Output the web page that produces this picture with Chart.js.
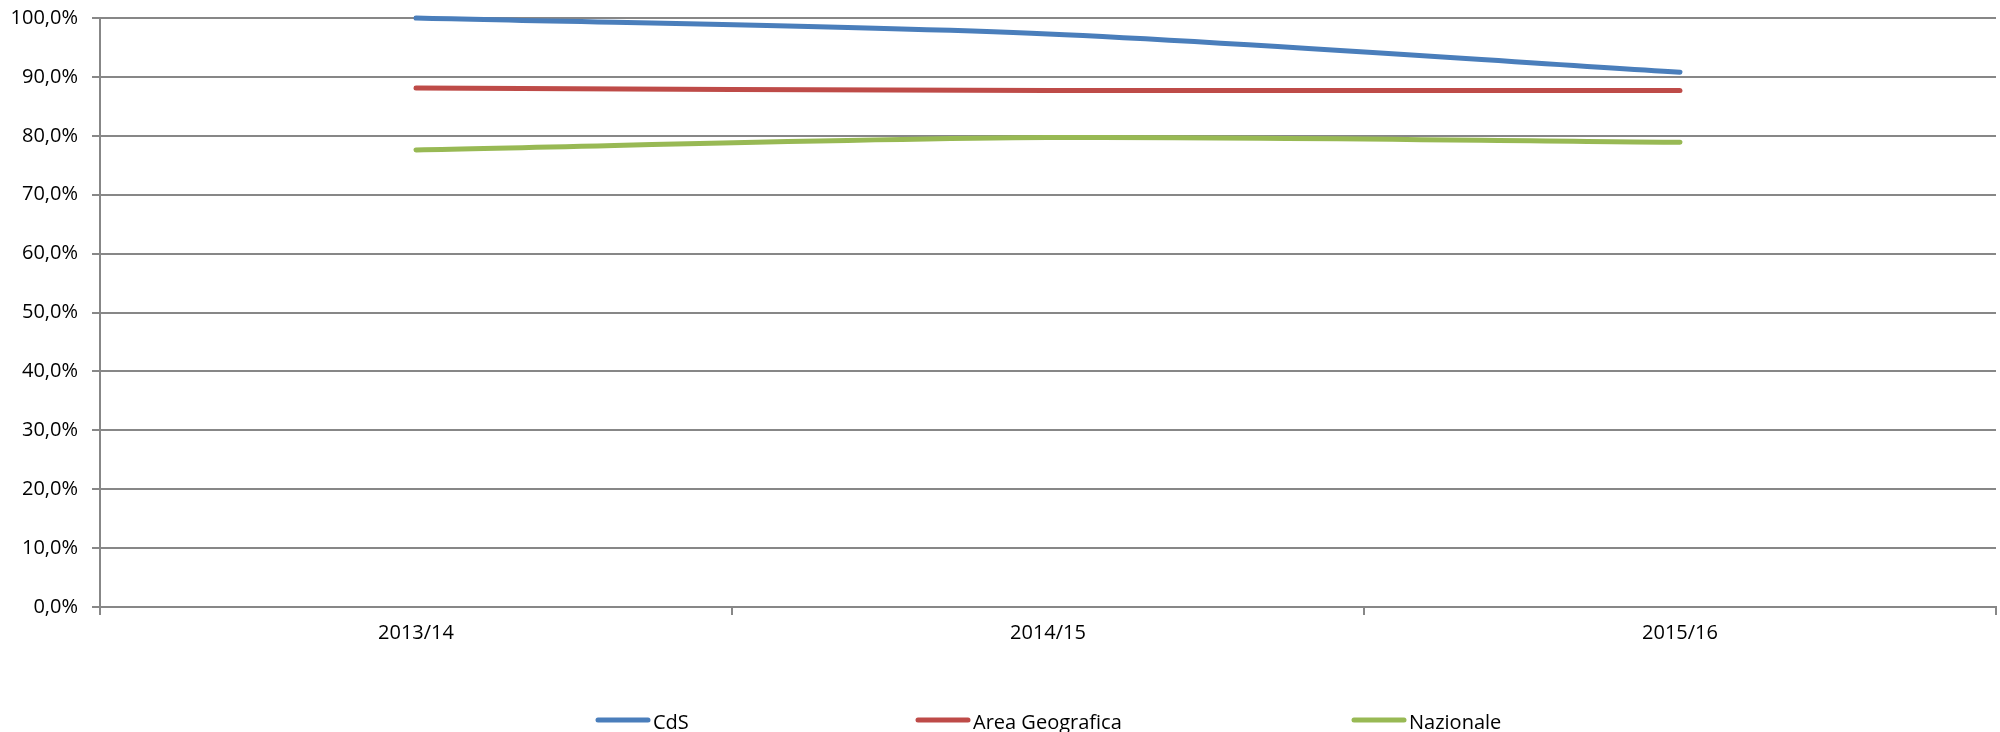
<!DOCTYPE html>
<html>
<head>
<meta charset="utf-8">
<script src="https://cdn.jsdelivr.net/npm/chart.js@4.4.1/dist/chart.umd.min.js"></script>
<style>
    html, body { margin: 0; padding: 0; background: #ffffff; overflow: hidden; }
    #wrap { width: 2000px; height: 732px; }
</style>
</head>
<body>
<div id="wrap"><canvas id="chart" width="2000" height="732"></canvas></div>
<script>
var categories = ['2013/14', '2014/15', '2015/16'];
var cdsValues = [1.000, 0.973, 0.908];
var areaValues = [0.881, 0.877, 0.877];
var nazionaleValues = [0.776, 0.797, 0.789];
var yTicks = [0, 0.1, 0.2, 0.3, 0.4, 0.5, 0.6, 0.7, 0.8, 0.9, 1.0];

var gridGray = '#878787';
var fontFamily = "'Open Sans', sans-serif";

// excel style legend, items spread along the bottom
var legendX = [596, 916, 1352];
var bottomLegend = {
    id: 'bottomLegend',
    afterDraw: function (chart) {
        var ctx = chart.ctx;
        ctx.save();
        ctx.font = '20px ' + fontFamily;
        ctx.textBaseline = 'alphabetic';
        ctx.fillStyle = '#000000';
        chart.data.datasets.forEach(function (ds, i) {
            var x = legendX[i];
            ctx.strokeStyle = ds.borderColor;
            ctx.lineWidth = 5;
            ctx.lineCap = 'round';
            ctx.beginPath();
            ctx.moveTo(x + 2, 720);
            ctx.lineTo(x + 52, 720);
            ctx.stroke();
            ctx.fillText(ds.label, x + 57, 729);
        });
        ctx.restore();
    }
};

function fmtPct(v) {
    return (v * 100).toFixed(1).replace('.', ',') + '%';
}

function line(label, data, color) {
    return {
        label: label,
        data: data,
        borderColor: color,
        backgroundColor: color,
        borderWidth: 5,
        borderCapStyle: 'round',
        borderJoinStyle: 'round',
        pointRadius: 0,
        tension: 0.3,
        clip: false
    };
}

new Chart(document.getElementById('chart'), {
    type: 'line',
    data: {
        labels: categories,
        datasets: [
            line('CdS', cdsValues, '#4A7EBB'),
            line('Area Geografica', areaValues, '#BE4B48'),
            line('Nazionale', nazionaleValues, '#98B954')
        ]
    },
    options: {
        responsive: false,
        animation: false,
        devicePixelRatio: 1,
        layout: { padding: { top: 18, right: 4, left: 0, bottom: 0 } },
        scales: {
            x: {
                offset: true,
                grid: {
                    offset: true,
                    drawOnChartArea: false,
                    drawTicks: true,
                    tickLength: 8,
                    color: gridGray,
                    lineWidth: 2
                },
                border: { display: true, color: gridGray, width: 2 },
                ticks: {
                    color: '#000000',
                    padding: 6,
                    maxRotation: 0,
                    font: { family: fontFamily, size: 20 }
                },
                afterFit: function (scale) { scale.height = 125; }
            },
            y: {
                min: 0,
                max: 1,
                afterBuildTicks: function (scale) {
                    scale.ticks = yTicks.map(function (v) { return { value: v }; });
                },
                grid: {
                    color: gridGray,
                    lineWidth: 2,
                    tickLength: 8
                },
                border: { display: true, color: gridGray, width: 2 },
                ticks: {
                    color: '#000000',
                    padding: 14,
                    font: { family: fontFamily, size: 20 },
                    callback: function (v) { return fmtPct(v); }
                },
                afterFit: function (scale) {
                    scale.width = 100;
                    scale.paddingTop = 0;
                    scale.paddingBottom = 0;
                }
            }
        },
        plugins: {
            legend: { display: false },
            tooltip: { enabled: false }
        }
    },
    plugins: [bottomLegend]
});
</script>
</body>
</html>
